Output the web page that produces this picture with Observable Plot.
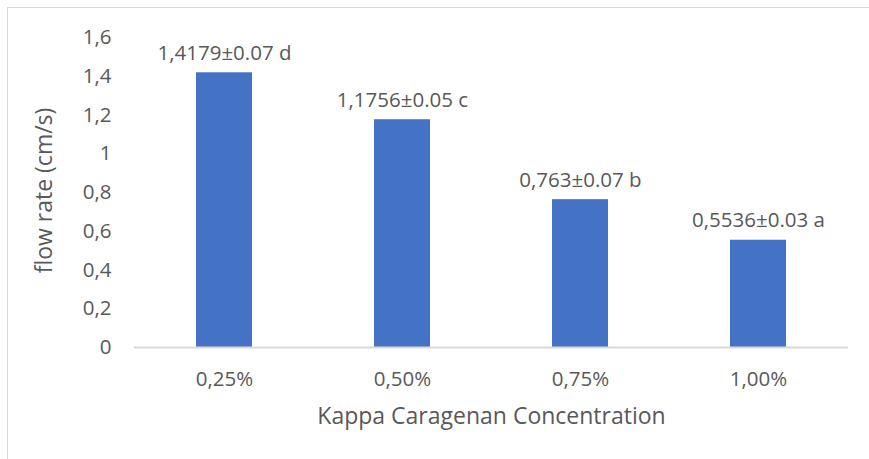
<!DOCTYPE html>
<html>
<head>
<meta charset="utf-8">
<script src="https://cdn.jsdelivr.net/npm/d3@7"></script>
<script src="https://cdn.jsdelivr.net/npm/@observablehq/plot@0.6"></script>
<style>
  html, body { margin: 0; padding: 0; background: #fff; }
  #wrap { position: relative; width: 869px; height: 459px; overflow: hidden; }
  #border { position: absolute; left: 7px; top: 7px; width: 880px; height: 480px;
            border-top: 1.5px solid #d9d9d9; border-left: 1.5px solid #d9d9d9; }
  #chart { position: absolute; left: 0; top: 0; }
</style>
</head>
<body>
<div id="wrap"><div id="border"></div><div id="chart"></div></div>
<script>
const categories = ["0,25%", "0,50%", "0,75%", "1,00%"];
const values = [1.4179, 1.1756, 0.763, 0.5536];
const labels = ["1,4179±0.07 d", "1,1756±0.05 c", "0,763±0.07 b", "0,5536±0.03 a"];
const yTicks = [0, 0.2, 0.4, 0.6, 0.8, 1, 1.2, 1.4, 1.6];

const data = categories.map((c, i) => ({cat: c, value: values[i], label: labels[i]}));
const textColor = "#595959";
const font = "'Open Sans', sans-serif";
const fs = 20.5;

const chart = Plot.plot({
  width: 869,
  height: 459,
  marginLeft: 134,
  marginRight: 21,
  marginTop: 37,
  marginBottom: 112,
  style: {fontFamily: font, fontSize: fs + "px", color: textColor, background: "transparent"},
  x: {domain: categories, paddingInner: 0.686, paddingOuter: 0.343, label: null},
  y: {domain: [0, 1.6], label: null},
  marks: [
    Plot.barY(data, {x: "cat", y: "value", fill: "#4472C4"}),
    Plot.ruleY([0], {stroke: "#d9d9d9", strokeWidth: 2}),
    Plot.axisY({ticks: yTicks, tickSize: 0, tickPadding: 23, tickFormat: d => String(d).replace(".", ","), fontSize: fs, fill: textColor}),
    Plot.axisX({tickSize: 0, tickPadding: 24, fontSize: fs, fill: textColor}),
    Plot.text(data, {x: "cat", y: "value", text: "label", lineAnchor: "bottom", dy: -13, fontSize: fs, fill: textColor}),
    Plot.text(["flow rate (cm/s)"], {frameAnchor: "left", textAnchor: "middle", dx: -90, dy: -2, rotate: -90, fontSize: 23, fill: textColor}),
    Plot.text(["Kappa Caragenan Concentration"], {frameAnchor: "bottom", dy: 76, fontSize: 23, fill: textColor})
  ]
});
document.getElementById("chart").appendChild(chart);
</script>
</body>
</html>
